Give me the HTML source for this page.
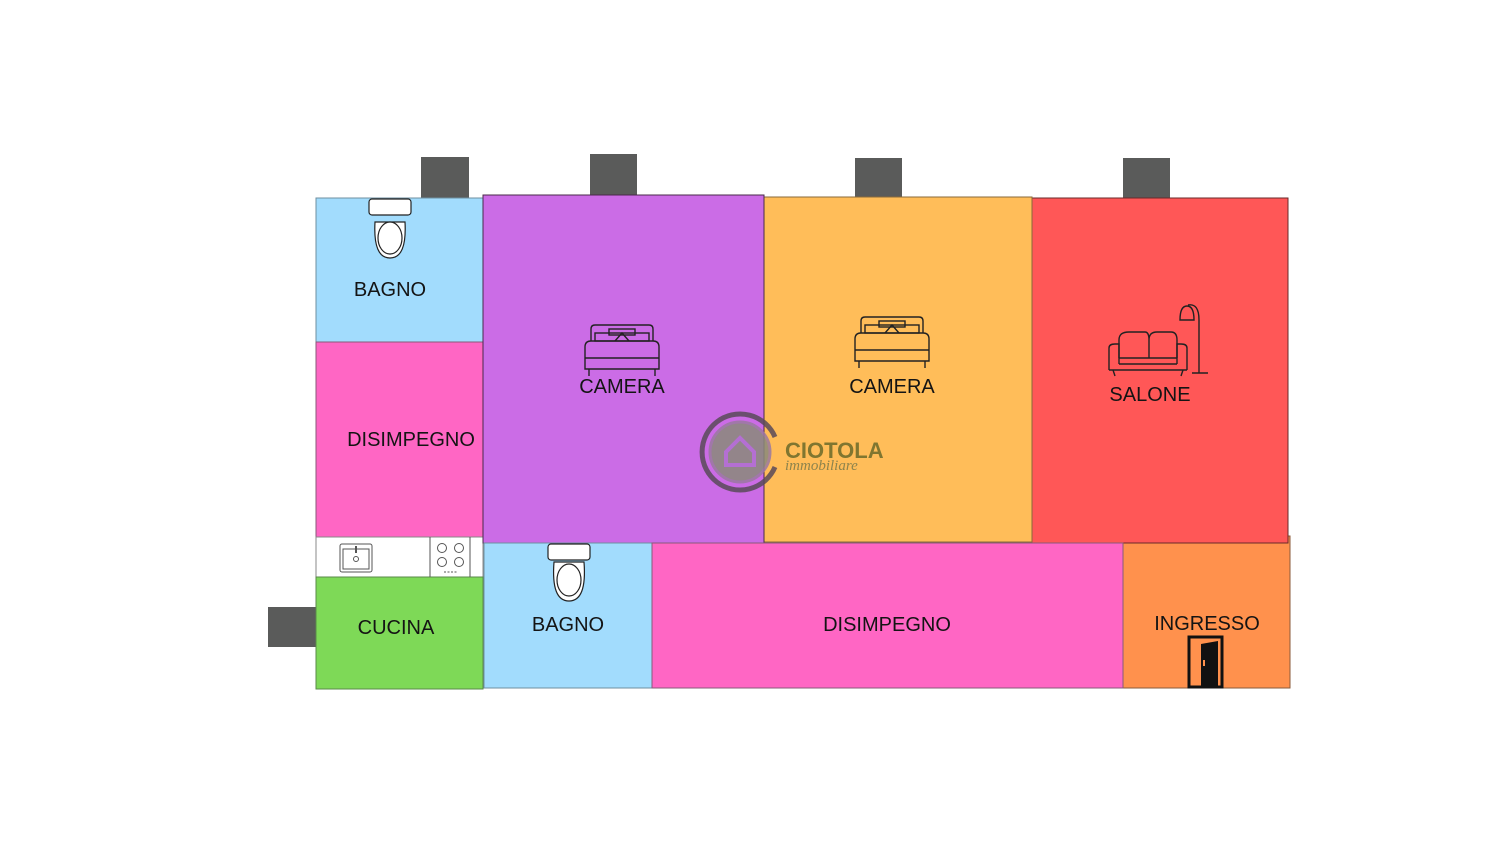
<!DOCTYPE html>
<html><head><meta charset="utf-8"><style>html,body{margin:0;padding:0;background:#fff}svg{display:block}</style></head>
<body>
<svg width="1500" height="843" viewBox="0 0 1500 843" xmlns="http://www.w3.org/2000/svg" font-family="Liberation Sans, sans-serif">
<rect width="1500" height="843" fill="#fff"/>
<!-- windows -->
<g fill="#5a5b5a">
<rect x="421" y="157" width="48" height="41"/>
<rect x="590" y="154" width="47" height="41"/>
<rect x="855" y="158" width="47" height="40"/>
<rect x="1123" y="158" width="47" height="40"/>
<rect x="268" y="607" width="48" height="40"/>
</g>
<g stroke-width="1">
<rect x="316" y="198" width="167" height="144" fill="#a2dcfd" stroke="#6f8fa0"/>
<rect x="316" y="342" width="167" height="195" fill="#ff66c4" stroke="#8a5a7a"/>
<rect x="316" y="537" width="167" height="40" fill="#fff" stroke="#888"/>
<rect x="316" y="577" width="167" height="112" fill="#7ed957" stroke="#5a8a4a"/>
<rect x="1123" y="536" width="167" height="152" fill="#ff914d" stroke="#8a5a3a"/>
<rect x="1025" y="198" width="263" height="345" fill="#ff5757" stroke="#6a2a2a"/>
<rect x="764" y="197" width="268" height="345" fill="#ffbd59" stroke="#8a6a3a"/>
<rect x="483" y="195" width="281" height="348" fill="#cb6ce6" stroke="#4a2a4a"/>
<rect x="484" y="543" width="168" height="145" fill="#a2dcfd" stroke="#6f8fa0"/>
<rect x="652" y="543" width="471" height="145" fill="#ff66c4" stroke="#8a5a7a"/>
</g>
<!-- toilets -->
<g fill="#fff" stroke="#222" stroke-width="1.2">
<rect x="369" y="199" width="42" height="16" rx="3"/>
<path d="M375 222 Q373 258 390 258 Q407 258 405 222 Z"/>
<ellipse cx="390" cy="238" rx="12" ry="16"/>
<rect x="548" y="544" width="42" height="16" rx="3"/>
<path d="M554 562 Q551 601 569 601 Q587 601 584 562 Z"/>
<ellipse cx="569" cy="580" rx="12" ry="16"/>
</g>
<!-- kitchen -->
<g fill="none" stroke="#555" stroke-width="1">
<rect x="340" y="544" width="32" height="28" rx="2"/>
<rect x="343" y="549" width="26" height="20"/>
<circle cx="356" cy="559" r="2.5"/>
<line x1="356" y1="546" x2="356" y2="553" stroke-width="2"/>
<line x1="430" y1="537" x2="430" y2="577"/>
<line x1="470" y1="537" x2="470" y2="577"/>
<circle cx="442" cy="548" r="4.5"/><circle cx="459" cy="548" r="4.5"/>
<circle cx="442" cy="562" r="4.5"/><circle cx="459" cy="562" r="4.5"/>
<line x1="444" y1="572" x2="457" y2="572" stroke-dasharray="2 1.5"/>
</g>
<!-- beds -->
<g fill="none" stroke="#222" stroke-width="1.4">
<g transform="translate(585,325)">
<path d="M6 16 V4 Q6 0 10 0 H64 Q68 0 68 4 V16"/>
<rect x="10" y="8" width="54" height="8"/>
<rect x="24" y="4" width="26" height="6"/>
<path d="M30 16 L37 8 L44 16"/>
<path d="M0 22 Q0 16 6 16 H68 Q74 16 74 22 V44 H0 Z"/>
<line x1="0" y1="33" x2="74" y2="33"/>
<path d="M4 44 V51 M70 44 V51"/>
</g>
<g transform="translate(855,317)">
<path d="M6 16 V4 Q6 0 10 0 H64 Q68 0 68 4 V16"/>
<rect x="10" y="8" width="54" height="8"/>
<rect x="24" y="4" width="26" height="6"/>
<path d="M30 16 L37 8 L44 16"/>
<path d="M0 22 Q0 16 6 16 H68 Q74 16 74 22 V44 H0 Z"/>
<line x1="0" y1="33" x2="74" y2="33"/>
<path d="M4 44 V51 M70 44 V51"/>
</g>
<!-- sofa -->
<g transform="translate(1105,330)">
<path d="M4 40 V18 Q4 14 10 14 H14 V34 M82 40 V18 Q82 14 76 14 H72 V34"/>
<path d="M14 28 V10 Q14 2 24 2 H40 Q44 2 44 10 V28 M44 10 Q44 2 52 2 H66 Q72 2 72 10 V28"/>
<line x1="14" y1="28" x2="72" y2="28"/>
<path d="M4 40 H82"/>
<line x1="14" y1="34" x2="72" y2="34"/>
<path d="M8 40 L10 46 M78 40 L76 46"/>
</g>
<path d="M1199 373 V320 Q1199 303 1188 305 M1192 373 H1208"/>
<path d="M1180 320 Q1180 306 1187 306 Q1194 306 1194 320 Z"/>
</g>
<!-- door -->
<rect x="1189" y="637" width="33" height="50" fill="none" stroke="#111" stroke-width="3"/>
<path d="M1201 644 L1218 641 L1218 688 L1201 688 Z" fill="#111"/>
<rect x="1203" y="660" width="2" height="6" fill="#ff914d"/>
<!-- labels -->
<g font-size="20" fill="#141414" text-anchor="middle">
<text x="390" y="296">BAGNO</text>
<text x="411" y="446">DISIMPEGNO</text>
<text x="622" y="393">CAMERA</text>
<text x="892" y="393">CAMERA</text>
<text x="1150" y="401">SALONE</text>
<text x="396" y="634">CUCINA</text>
<text x="568" y="631">BAGNO</text>
<text x="887" y="631">DISIMPEGNO</text>
<text x="1207" y="630">INGRESSO</text>
</g>
<!-- logo -->
<g opacity="0.85">
<path d="M775 437 A38 38 0 1 0 775 467" fill="none" stroke="#5a4a5a" stroke-width="5"/>
<circle cx="740" cy="452" r="30" fill="#8a8a7a" stroke="#9a7aa0" stroke-width="3"/>
<path d="M726 452 L740 438 L754 452 V465 H726 Z" fill="none" stroke="#b070d0" stroke-width="4"/>
<text x="785" y="458" font-size="22" font-weight="bold" fill="#6a6a2a">CIOTOLA</text>
<text x="785" y="470" font-size="15" font-style="italic" font-family="Liberation Serif, serif" fill="#7a7a4a">immobiliare</text>
</g>
</svg>
</body></html>
